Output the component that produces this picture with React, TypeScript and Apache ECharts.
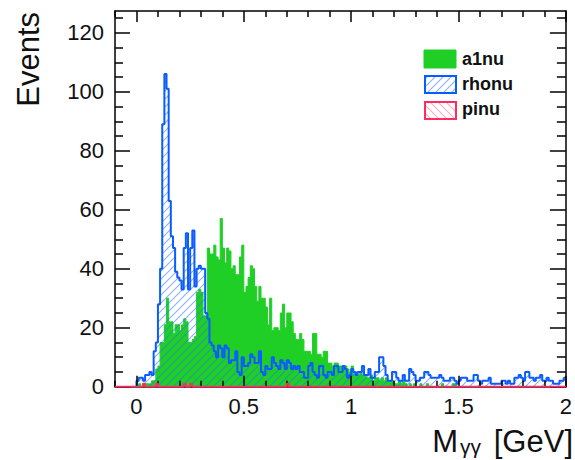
import React, { useEffect, useRef } from "react";
import * as echarts from "echarts";

// ---------- data ----------
const BIN_START = 0;
const BIN_WIDTH = 0.01;
const X_MIN = -0.1;
const X_MAX = 2.0;
const Y_MIN = 0;
const Y_MAX = 127.4;

const xTickLabels = [0, 0.5, 1, 1.5, 2];
const xMinorTicks = [-0.1, 0.1, 0.2, 0.3, 0.4, 0.6, 0.7, 0.8, 0.9, 1.1, 1.2, 1.3, 1.4, 1.6, 1.7, 1.8, 1.9];
const yTickLabels = [0, 20, 40, 60, 80, 100, 120];
const yMinorTicks = [5, 10, 15, 25, 30, 35, 45, 50, 55, 65, 70, 75, 85, 90, 95, 105, 110, 115, 125];

const seriesNames = ["a1nu", "rhonu", "pinu"];

const a1nu = [
  0, 1, 0, 1, 1, 1, 1, 2, 2, 6, 7, 15, 15, 21, 30, 22, 22, 18, 21, 21,
  19, 21, 23, 22, 15, 15, 16, 17, 32, 33, 32, 24, 24, 47, 45, 45, 48, 44, 43, 57,
  47, 42, 47, 46, 40, 41, 38, 38, 44, 48, 32, 34, 37, 41, 40, 34, 29, 34, 30, 30,
  27, 21, 30, 19, 20, 20, 19, 25, 28, 20, 25, 25, 22, 18, 16, 16, 18, 16, 12, 12,
  12, 11, 18, 18, 11, 11, 10, 12, 12, 8, 8, 7, 8, 8, 7, 7, 6, 7, 6, 5,
  7, 4, 5, 4, 5, 4, 4, 3, 3, 4, 2, 3, 3, 2, 3, 2, 3, 2, 2, 2,
  1, 1, 2, 1, 2, 1, 0, 1, 0, 1, 0, 0, 1, 0, 0, 1, 0, 0, 0, 0,
  0, 0, 1, 0, 0, 0, 0, 1, 1, 0, 0, 0, 0, 0, 0, 0, 0, 0, 0, 0,
  0, 0, 0, 0, 0, 0, 0, 0, 0, 0, 0, 0, 0, 0, 0, 0, 0, 0, 0, 0,
  0, 0, 0, 0, 0, 0, 0, 0, 0, 0, 0, 0, 0, 0, 0, 0, 0, 0, 0, 0,
];

const rhonu = [
  2, 3, 3, 2, 4, 4, 5, 4, 12, 15, 28, 40, 89, 106, 101, 63, 51, 47, 39, 37,
  36, 33, 47, 52, 33, 47, 53, 34, 40, 41, 40, 40, 25, 23, 15, 14, 12, 10, 14, 13,
  10, 14, 13, 8, 9, 9, 12, 5, 4, 10, 7, 7, 8, 11, 10, 8, 8, 12, 5, 4,
  7, 6, 6, 10, 8, 7, 6, 9, 8, 6, 9, 8, 6, 7, 6, 7, 5, 5, 3, 3,
  7, 8, 5, 4, 3, 7, 7, 4, 3, 5, 5, 4, 7, 7, 5, 5, 7, 6, 3, 4,
  6, 5, 4, 5, 5, 7, 4, 4, 6, 3, 3, 5, 5, 10, 10, 7, 4, 2, 2, 5,
  5, 3, 2, 2, 4, 2, 2, 6, 5, 4, 2, 2, 3, 3, 5, 5, 4, 3, 3, 3,
  3, 4, 3, 2, 2, 2, 3, 3, 2, 1, 2, 3, 3, 3, 2, 2, 2, 4, 4, 2,
  1, 2, 2, 2, 3, 1, 1, 1, 1, 1, 2, 2, 1, 2, 1, 1, 3, 3, 4, 3,
  2, 5, 5, 3, 3, 2, 3, 3, 4, 2, 2, 3, 2, 2, 1, 1, 1, 2, 2, 3,
];

const pinu = [
  0, 0, 0, 1, 0, 0, 0, 0, 0, 1, 0, 0, 0, 0, 0, 0, 0, 0, 0, 0,
  0, 0, 1, 0, 0, 1, 0, 0, 0, 0, 0, 0, 0, 0, 0, 0, 0, 0, 0, 0,
  0, 0, 0, 0, 0, 0, 0, 0, 0, 0, 0, 0, 0, 0, 0, 0, 0, 0, 0, 0,
  0, 0, 0, 0, 0, 0, 0, 0, 0, 0, 1, 0, 0, 0, 0, 0, 0, 0, 0, 0,
  0, 0, 0, 0, 0, 0, 0, 0, 0, 0, 0, 0, 0, 0, 0, 0, 0, 0, 0, 0,
  0, 0, 0, 0, 0, 0, 0, 0, 0, 0, 0, 0, 0, 0, 0, 0, 0, 0, 0, 0,
  0, 0, 0, 0, 0, 0, 0, 0, 0, 0, 0, 0, 0, 0, 0, 0, 0, 0, 0, 0,
  0, 0, 0, 0, 0, 0, 0, 0, 0, 0, 0, 0, 0, 0, 0, 0, 0, 0, 0, 0,
  0, 0, 0, 0, 0, 0, 0, 0, 0, 0, 0, 0, 0, 0, 0, 0, 0, 0, 0, 0,
  0, 0, 0, 0, 0, 0, 0, 0, 0, 0, 0, 0, 0, 0, 0, 0, 0, 0, 0, 0,
];

// ---------- helpers ----------
const FONT = "'Liberation Sans', Arial, Helvetica, sans-serif";
const GREEN = "#1fcf26";
const BLUE = "#0a5cff";
const RED = "#ff2d5f";

function stepPoints(values: number[], start: number, width: number, leadFrom?: number) {
  const pts: number[][] = [];
  if (leadFrom !== undefined) pts.push([leadFrom, 0]);
  pts.push([start, 0]);
  values.forEach((v, i) => pts.push([+(start + i * width).toFixed(4), v]));
  pts.push([+(start + values.length * width).toFixed(4), values[values.length - 1]]);
  return pts;
}

function makeHatch(color: string, dir: 1 | -1, size: number) {
  const c = document.createElement("canvas");
  c.width = size;
  c.height = size;
  const ctx = c.getContext("2d")!;
  ctx.strokeStyle = color;
  ctx.lineWidth = 1.1;
  ctx.beginPath();
  if (dir === 1) {
    ctx.moveTo(0, size);
    ctx.lineTo(size, 0);
    ctx.moveTo(-1, 1);
    ctx.lineTo(1, -1);
    ctx.moveTo(size - 1, size + 1);
    ctx.lineTo(size + 1, size - 1);
  } else {
    ctx.moveTo(0, 0);
    ctx.lineTo(size, size);
    ctx.moveTo(size - 1, -1);
    ctx.lineTo(size + 1, 1);
    ctx.moveTo(-1, size - 1);
    ctx.lineTo(1, size + 1);
  }
  ctx.stroke();
  return { image: c, repeat: "repeat", imageWidth: size, imageHeight: size } as any;
}

export default function App() {
  const ref = useRef<HTMLDivElement>(null);

  useEffect(() => {
    if (!ref.current) return;
    const chart = echarts.init(ref.current, undefined, { renderer: "svg" });

    const blueHatch = makeHatch("rgba(40,115,255,0.55)", 1, 8);
    const redHatch = makeHatch("rgba(255,45,95,0.4)", -1, 8);
    const blueHatchLegend = makeHatch("rgba(40,115,255,0.55)", 1, 8);
    const redHatchLegend = makeHatch("rgba(255,45,95,0.4)", -1, 8);

    const tickLine = { color: "#000", width: 1.5 };
    const xBase = { type: "value", min: X_MIN, max: X_MAX, splitLine: { show: false }, z: 10, gridIndex: 0 };
    const yBase = { type: "value", min: Y_MIN, max: Y_MAX, splitLine: { show: false }, z: 10, gridIndex: 0 };

    const option: any = {
      animation: false,
      backgroundColor: "#fff",
      grid: { left: 115, top: 11, width: 459, height: 375.7, containLabel: false },
      xAxis: [
        {
          ...xBase,
          position: "bottom",
          axisLine: { show: true, onZero: false, lineStyle: tickLine },
          axisTick: { show: true, inside: true, length: 11, customValues: xTickLabels, lineStyle: tickLine },
          axisLabel: {
            show: true,
            customValues: xTickLabels,
            fontSize: 22,
            fontFamily: FONT,
            color: "#111",
            margin: 9,
            formatter: (v: number) => String(v),
          },
        },
        {
          ...xBase,
          position: "bottom",
          axisLine: { show: false, onZero: false },
          axisTick: { show: true, inside: true, length: 6, customValues: xMinorTicks, lineStyle: tickLine },
          axisLabel: { show: false },
        },
        {
          ...xBase,
          position: "top",
          axisLine: { show: true, onZero: false, lineStyle: tickLine },
          axisTick: { show: true, inside: true, length: 11, customValues: xTickLabels, lineStyle: tickLine },
          axisLabel: { show: false },
        },
        {
          ...xBase,
          position: "top",
          axisLine: { show: false, onZero: false },
          axisTick: { show: true, inside: true, length: 6, customValues: xMinorTicks, lineStyle: tickLine },
          axisLabel: { show: false },
        },
      ],
      yAxis: [
        {
          ...yBase,
          position: "left",
          axisLine: { show: true, onZero: false, lineStyle: tickLine },
          axisTick: { show: true, inside: true, length: 15, customValues: yTickLabels, lineStyle: tickLine },
          axisLabel: {
            show: true,
            customValues: yTickLabels,
            fontSize: 22,
            fontFamily: FONT,
            color: "#111",
            margin: 11,
          },
        },
        {
          ...yBase,
          position: "left",
          axisLine: { show: false, onZero: false },
          axisTick: { show: true, inside: true, length: 8, customValues: yMinorTicks, lineStyle: tickLine },
          axisLabel: { show: false },
        },
        {
          ...yBase,
          position: "right",
          axisLine: { show: true, onZero: false, lineStyle: tickLine },
          axisTick: { show: true, inside: true, length: 16, customValues: yTickLabels, lineStyle: tickLine },
          axisLabel: { show: false },
        },
        {
          ...yBase,
          position: "right",
          axisLine: { show: false, onZero: false },
          axisTick: { show: true, inside: true, length: 9, customValues: yMinorTicks, lineStyle: tickLine },
          axisLabel: { show: false },
        },
      ],
      series: [
        {
          name: seriesNames[0],
          type: "line",
          step: "end",
          xAxisIndex: 0,
          yAxisIndex: 0,
          symbol: "none",
          silent: true,
          z: 2,
          data: stepPoints(a1nu, BIN_START, BIN_WIDTH),
          lineStyle: { color: GREEN, width: 1 },
          areaStyle: { color: GREEN, opacity: 1 },
        },
        {
          name: seriesNames[1],
          type: "line",
          step: "end",
          xAxisIndex: 0,
          yAxisIndex: 0,
          symbol: "none",
          silent: true,
          z: 3,
          data: stepPoints(rhonu, BIN_START, BIN_WIDTH),
          lineStyle: { color: BLUE, width: 2 },
          areaStyle: { color: blueHatch, opacity: 1 },
        },
        {
          name: seriesNames[2],
          type: "line",
          step: "end",
          xAxisIndex: 0,
          yAxisIndex: 0,
          symbol: "none",
          silent: true,
          z: 20,
          data: stepPoints(pinu, BIN_START, BIN_WIDTH, X_MIN),
          lineStyle: { color: RED, width: 2 },
          areaStyle: { color: redHatch, opacity: 1 },
        },
      ],
      graphic: [
        // axis titles
        {
          type: "text",
          x: 28,
          y: 12,
          rotation: Math.PI / 2,
          style: { text: "Events", fontSize: 31, fontFamily: FONT, fill: "#111", align: "right", verticalAlign: "middle" },
        },
        {
          type: "text",
          x: 458,
          y: 441,
          style: { text: "M", fontSize: 31, fontFamily: FONT, fill: "#111", align: "right", verticalAlign: "middle" },
        },
        {
          type: "text",
          x: 481,
          y: 446,
          style: { text: "γγ", fontSize: 21, fontFamily: FONT, fill: "#111", align: "right", verticalAlign: "middle" },
        },
        {
          type: "text",
          x: 573,
          y: 441,
          style: { text: "[GeV]", fontSize: 31, fontFamily: FONT, fill: "#111", align: "right", verticalAlign: "middle" },
        },
        // legend
        {
          type: "rect",
          shape: { x: 424, y: 50, width: 32, height: 18 },
          style: { fill: GREEN, stroke: GREEN, lineWidth: 1 },
          z: 30,
        },
        {
          type: "rect",
          shape: { x: 425, y: 76, width: 31, height: 17 },
          style: { fill: blueHatchLegend, stroke: BLUE, lineWidth: 2 },
          z: 30,
        },
        {
          type: "rect",
          shape: { x: 425, y: 102, width: 31, height: 17 },
          style: { fill: redHatchLegend, stroke: RED, lineWidth: 2 },
          z: 30,
        },
        {
          type: "text",
          x: 462,
          y: 59,
          z: 30,
          style: { text: seriesNames[0], fontSize: 18, fontWeight: "bold", fontFamily: FONT, fill: "#111", verticalAlign: "middle" },
        },
        {
          type: "text",
          x: 462,
          y: 84,
          z: 30,
          style: { text: seriesNames[1], fontSize: 18, fontWeight: "bold", fontFamily: FONT, fill: "#111", verticalAlign: "middle" },
        },
        {
          type: "text",
          x: 462,
          y: 109,
          z: 30,
          style: { text: seriesNames[2], fontSize: 18, fontWeight: "bold", fontFamily: FONT, fill: "#111", verticalAlign: "middle" },
        },
      ],
    };

    chart.setOption(option);
    return () => chart.dispose();
  }, []);

  return (
    <div
      ref={ref}
      style={{ position: "fixed", left: 0, top: 0, width: 575, height: 460, background: "#fff" }}
    />
  );
}
